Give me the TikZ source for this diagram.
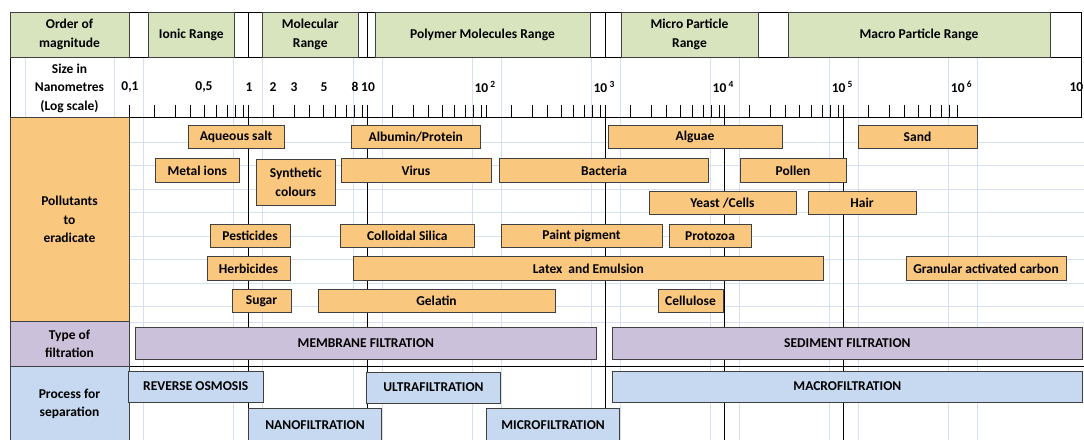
\documentclass[tikz,border=0pt]{standalone}
\usepackage{fontspec}
\setmainfont{Carlito}
\usepackage{tikz}
\definecolor{verde}{HTML}{D7E4BD}
\definecolor{naranja}{HTML}{F9C77E}
\definecolor{morado}{HTML}{CCC1DA}
\definecolor{azul}{HTML}{C6D9F1}
\definecolor{rejilla}{HTML}{D5E0F0}
\tikzset{
    texto/.style={inner sep=0pt, align=center, font=\bfseries\fontsize{13.5}{18.5}\selectfont},
    caja/.style={texto, draw=black!75, line width=0.9pt},
    tam/.style 2 args={minimum width=#1pt, minimum height=#2pt},
    linea/.style={line width=0.9pt},
}
\begin{document}
\begin{tikzpicture}[x=1pt, y=-1pt]
    \useasboundingbox (0,0) rectangle (1084,439);
    % rejilla de fondo
    \foreach \d in {0,...,7} {
        \draw[rejilla] ({129+119.1*\d-14.5},57) -- ++(0,385);
        \draw[rejilla] ({129+119.1*\d+14.5},57) -- ++(0,385);
    }
    \draw[rejilla] (25,57) -- (25,117.7);
    \foreach \k in {0,...,7}
        \draw[rejilla] (129,{141.8+23.5*\k}) -- (1084,{141.8+23.5*\k});
    \draw[rejilla] (129,321.7) -- (1084,321.7);
    % lineas de cada decada
    \foreach \d in {1,2,4,5,6}
        \draw[linea] ({129+119.1*\d},117.7) -- ++(0,325);
    \foreach \d in {1,2}
        \draw[linea] ({129+119.1*\d},12) -- ++(0,45);
    \draw[line width=1.8pt] (605.4,12) -- (605.4,57) (605.4,117.7) -- (605.4,442);
    % marco de las dos primeras filas
    \draw[linea] (10,12) rectangle (1081,117.7);
    \draw[linea] (10,57) -- (1081,57);
    \draw[linea] (129,366) -- (1084,366);
    % escala logaritmica
    \foreach \d in {0,...,6}
        \foreach \f in {0,25,46,61,75,87,98,106,114}
            \draw[linea] ({129+119.1*\d+\f},105) -- ++(0,12.7);

    % fila 1: orden de magnitud
    \node[caja, fill=verde, tam={119}{45}] (orden) at (69.5,34.5) {Order of\\magnitude};
    \node[caja, fill=verde, tam={85.5}{45}] (ionico) at (191.25,34.5) {Ionic Range};
    \node[caja, fill=verde, tam={96.5}{45}] (molecular) at (310.25,34.5) {Molecular\\Range};
    \node[caja, fill=verde, tam={215}{45}] (polimero) at (482.5,34.5) {Polymer Molecules Range};
    \node[caja, fill=verde, tam={137}{45}] (micro) at (689.5,34.5) {Micro Particle\\Range};
    \node[caja, fill=verde, tam={262}{45}] (macro) at (919,34.5) {Macro Particle Range};

    % fila 2: tamano
    \node[texto] (tamano) at (69.5,88) {Size in\\Nanometres\\(Log scale)};
    \node[texto] (e01) at (130,87) {0,1};
    \node[texto] (e05) at (204,87) {0,5};
    \node[texto] (e1) at (249,87) {1};
    \node[texto] (e2) at (273,87) {2};
    \node[texto] (e3) at (294,87) {3};
    \node[texto] (e5) at (324,87) {5};
    \node[texto] (e8) at (355,87) {8};
    \node[texto] (e10) at (368,87) {10};
    \node[texto, anchor=west] (e100) at (474.3,87) {10\,\textsuperscript{2}};
    \node[texto, anchor=west] (e1000) at (593.4,87) {10\,\textsuperscript{3}};
    \node[texto, anchor=west] (e1e4) at (712.5,87) {10\,\textsuperscript{4}};
    \node[texto, anchor=west] (e1e5) at (831.6,87) {10\,\textsuperscript{5}};
    \node[texto, anchor=west] (e1e6) at (950.7,87) {10\,\textsuperscript{6}};
    \node[texto, anchor=east] (e1e7) at (1083.5,87) {10};

    % contaminantes
    \node[caja, fill=naranja, tam={119}{204}] (contaminantes) at (69.5,219.7) {Pollutants\\to\\eradicate};
    \node[caja, fill=naranja, tam={96}{23}] (sal) at (236,137) {Aqueous salt};
    \node[caja, fill=naranja, tam={129.5}{23}] (albumina) at (415.75,137) {Albumin/Protein};
    \node[caja, fill=naranja, tam={174}{23}] (algas) at (695,137) {Alguae};
    \node[caja, fill=naranja, tam={119}{23}] (arena) at (917.5,137) {Sand};
    \node[caja, fill=naranja, tam={83.5}{24}] (metales) at (197.25,170.5) {Metal ions};
    \node[caja, fill=naranja, tam={78.5}{46}] (sinteticos) at (295.75,182.4) {Synthetic\\colours};
    \node[caja, fill=naranja, tam={150}{24}] (virus) at (416,170.5) {Virus};
    \node[caja, fill=naranja, tam={209}{24}] (bacterias) at (604,170.5) {Bacteria};
    \node[caja, fill=naranja, tam={106}{24}] (polen) at (793,170.5) {Pollen};
    \node[caja, fill=naranja, tam={147}{23}] (levadura) at (722.5,203.3) {Yeast /Cells};
    \node[caja, fill=naranja, tam={108}{23}] (pelo) at (862,203.3) {Hair};
    \node[caja, fill=naranja, tam={80}{23.5}] (pesticidas) at (250,235.8) {Pesticides};
    \node[caja, fill=naranja, tam={134.6}{23.5}] (silice) at (407.3,235.8) {Colloidal Silica};
    \node[caja, fill=naranja, tam={161}{23.5}] (pintura) at (581.5,235.8) {Paint pigment};
    \node[caja, fill=naranja, tam={82}{23.5}] (protozoos) at (710,235.8) {Protozoa};
    \node[caja, fill=naranja, tam={83}{23.5}] (herbicidas) at (248.5,268.5) {Herbicides};
    \node[caja, fill=naranja, tam={470.7}{23.5}] (latex) at (588.35,268.5) {Latex\ \ and Emulsion};
    \node[caja, fill=naranja, tam={160}{23.5}] (carbon) at (986,268.5) {Granular activated carbon};
    \node[caja, fill=naranja, tam={59}{23}] (azucar) at (261.5,300.8) {Sugar};
    \node[caja, fill=naranja, tam={237}{23}] (gelatina) at (436.5,300.8) {Gelatin};
    \node[caja, fill=naranja, tam={65}{23}] (celulosa) at (690.5,300.8) {Cellulose};

    % tipo de filtracion
    \node[caja, fill=morado, tam={119}{44.3}] (tipo) at (69.5,343.85) {Type of\\filtration};
    \node[caja, fill=morado, tam={460.3}{32}] (membrana) at (365.85,343) {MEMBRANE FILTRATION};
    \node[caja, fill=morado, tam={469.3}{32}] (sedimento) at (847.35,343) {SEDIMENT FILTRATION};

    % proceso de separacion
    \node[caja, fill=azul, tam={119}{76}] (proceso) at (69.5,404) {Process for\\separation};
    \node[caja, fill=azul, tam={134.5}{31.3}] (osmosis) at (195.75,386.6) {REVERSE OSMOSIS};
    \node[caja, fill=azul, tam={134}{31.3}] (ultra) at (433.45,387.6) {ULTRAFILTRATION};
    \node[caja, fill=azul, tam={469.3}{31.3}] (macrof) at (847.35,386.6) {MACROFILTRATION};
    \node[caja, fill=azul, tam={133}{33.5}] (nano) at (315,425.2) {NANOFILTRATION};
    \node[caja, fill=azul, tam={132.8}{33.5}] (microf) at (553.1,425.5) {MICROFILTRATION};
\end{tikzpicture}
\end{document}
